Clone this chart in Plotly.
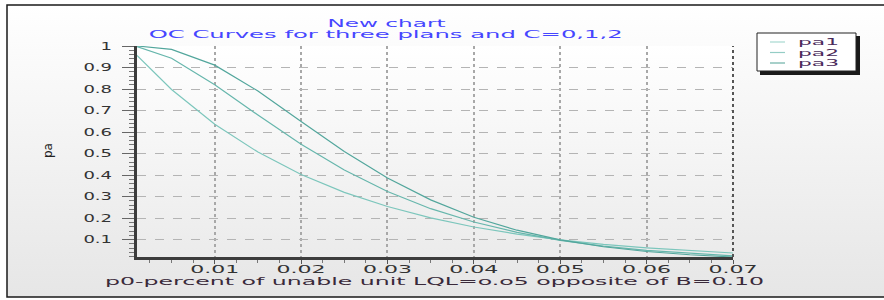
import base64
import json
import plotly.graph_objects as go

# ---- data ----
p0 = [0.001, 0.005, 0.01, 0.015, 0.02, 0.025, 0.03, 0.035, 0.04, 0.045,
      0.05, 0.055, 0.06, 0.065, 0.07]
pa1 = [0.956, 0.798, 0.636, 0.507, 0.403, 0.320, 0.254, 0.201, 0.159, 0.126,
       0.099, 0.078, 0.062, 0.049, 0.038]
pa2 = [0.997, 0.943, 0.820, 0.679, 0.543, 0.424, 0.324, 0.244, 0.182, 0.134,
       0.097, 0.070, 0.050, 0.036, 0.025]
pa3 = [1.000, 0.984, 0.911, 0.791, 0.649, 0.510, 0.387, 0.285, 0.204, 0.144,
       0.099, 0.067, 0.045, 0.030, 0.0195]
series_names = ["pa1", "pa2", "pa3"]
x_ticks = [0.01, 0.02, 0.03, 0.04, 0.05, 0.06, 0.07]
x_ticklabels = ["0.01", "0.02", "0.03", "0.04", "0.05", "0.06", "0.07"]
y_ticks = [0.1, 0.2, 0.3, 0.4, 0.5, 0.6, 0.7, 0.8, 0.9, 1.0]
y_ticklabels = ["0.1", "0.2", "0.3", "0.4", "0.5", "0.6", "0.7", "0.8", "0.9", "1"]

title_1 = "New chart"
title_2 = "OC Curves for three plans and C=0,1,2"
x_title = "p0-percent of unable unit LQL=o.o5 opposite of B=0.10"
y_title = "pa"

colors = ["#7cc6bc", "#66b6ac", "#52a69c"]
legend_colors = ["#a6d8d0", "#94cdc5", "#6cb0a7"]
FONT = "DejaVu Sans"
FS = 10


def grad(top, bottom):
    svg = ('<svg xmlns="http://www.w3.org/2000/svg" width="10" height="100" '
           'viewBox="0 0 10 100" preserveAspectRatio="none"><defs>'
           '<linearGradient id="g" x1="0" y1="0" x2="0" y2="1">'
           f'<stop offset="0" stop-color="{top}"/>'
           f'<stop offset="1" stop-color="{bottom}"/></linearGradient></defs>'
           '<rect width="10" height="100" fill="url(#g)"/></svg>')
    return "data:image/svg+xml;base64," + base64.b64encode(svg.encode()).decode()


fig = go.Figure()
for name, ys, c in zip(series_names, [pa1, pa2, pa3], colors):
    fig.add_trace(go.Scatter(x=p0, y=ys, mode="lines", name=name,
                             line=dict(color=c, width=1.2), showlegend=False))

# plot area geometry (px): left 137, right 733, top 46, bottom 257
L, R, T, B = 137, 733, 46, 257
W, H = R - L, B - T


def px(xp):
    return (xp - L) / W


def py(yp):
    return (B - yp) / H


shapes = [
    dict(type="rect", xref="paper", yref="paper",
         x0=px(7), x1=px(900), y0=py(297), y1=py(5),
         line=dict(color="#1a1a1a", width=1.5), layer="below"),
    dict(type="line", xref="paper", yref="paper", x0=1, x1=1, y0=0, y1=1,
         line=dict(color="#555555", width=2, dash="dot"), layer="above"),
    # legend shadow + box
    dict(type="rect", xref="paper", yref="paper",
         x0=px(760), x1=px(860), y0=py(75), y1=py(36),
         fillcolor="#1a1a1a", line=dict(width=0), layer="above"),
    dict(type="rect", xref="paper", yref="paper",
         x0=px(757), x1=px(856), y0=py(71), y1=py(33),
         fillcolor="white", line=dict(color="#222222", width=1), layer="above"),
]
annotations = [
    dict(text=title_1, xref="paper", yref="paper", x=px(386), y=py(23),
         showarrow=False, xanchor="center", yanchor="middle",
         font=dict(family=FONT, size=10, color="#4646ff")),
    dict(text=title_2, xref="paper", yref="paper", x=px(385), y=py(34.5),
         showarrow=False, xanchor="center", yanchor="middle",
         font=dict(family=FONT, size=10, color="#4646ff")),
    dict(text=x_title, xref="paper", yref="paper", x=px(434.5), y=py(281),
         showarrow=False, xanchor="center", yanchor="middle",
         font=dict(family=FONT, size=10, color="#3a2a3a")),
    dict(text=y_title, xref="paper", yref="paper", x=px(48), y=py(151),
         showarrow=False, xanchor="center", yanchor="middle", textangle=-90,
         font=dict(family=FONT, size=12, color="#222222")),
]
legend_y = [42, 52.5, 63]
for name, c, ly in zip(series_names, legend_colors, legend_y):
    shapes.append(dict(type="line", xref="paper", yref="paper",
                       x0=px(770), x1=px(785), y0=py(ly), y1=py(ly),
                       line=dict(color=c, width=1.2), layer="above"))
    annotations.append(dict(text=name, xref="paper", yref="paper",
                            x=px(796), y=py(ly), showarrow=False,
                            xanchor="left", yanchor="middle", align="left",
                            font=dict(family=FONT, size=9, color="#4a2a5a")))

fig.update_layout(
    width=884, height=300,
    margin=dict(l=L, r=884 - R, t=T, b=300 - B, pad=0),
    paper_bgcolor="white",
    plot_bgcolor="rgba(0,0,0,0)",
    font=dict(family=FONT, size=FS, color="#333333"),
    showlegend=False,
    images=[
        dict(source=grad("#ffffff", "#e6e6e6"), xref="paper", yref="paper",
             x=px(7), y=py(5), sizex=px(900) - px(7), sizey=py(5) - py(297),
             sizing="stretch", layer="below", xanchor="left", yanchor="top"),
        dict(source=grad("#ffffff", "#ebebeb"), xref="paper", yref="paper",
             x=0, y=1, sizex=1, sizey=1,
             sizing="stretch", layer="below", xanchor="left", yanchor="top"),
    ],
    shapes=shapes,
    annotations=annotations,
)

fig.update_xaxes(
    range=[0.001, 0.07], tickmode="array", tickvals=x_ticks, ticktext=x_ticklabels,
    showgrid=True, gridcolor="#a8a8a8", gridwidth=2, griddash="dot",
    showline=True, linecolor="#3c3c3c", linewidth=3,
    ticks="outside", ticklen=4, tickcolor="#555555", tickwidth=1,
    ticklabelstandoff=-3,
    minor=dict(dtick=0.0025, tick0=0, ticks="outside", ticklen=3,
               tickcolor="#777777", showgrid=False),
    tickfont=dict(family=FONT, size=FS, color="#333333"),
    zeroline=False,
)
fig.update_yaxes(
    range=[min(pa3), 1.0], tickmode="array", tickvals=y_ticks, ticktext=y_ticklabels,
    showgrid=True, gridcolor="#b4b4b4", gridwidth=1, griddash="dash",
    showline=True, linecolor="#3c3c3c", linewidth=3,
    ticks="outside", ticklen=12, tickcolor="#666666", tickwidth=1,
    ticklabelstandoff=8,
    minor=dict(dtick=0.02, tick0=0, ticks="outside", ticklen=5,
               tickcolor="#777777", showgrid=False),
    tickfont=dict(family=FONT, size=FS, color="#333333"),
    zeroline=False,
)

# The reference chart is stretched horizontally: widen the glyphs the same way
# (target rendered widths in px for the long texts, factors for tick labels).
targets = {title_1: 118, title_2: 474, x_title: 659,
           "pa1": 41, "pa2": 41, "pa3": 41}
post = """
document.body.style.margin = '0';
var TARGETS = %s;
function stretchText() {
  document.querySelectorAll('.main-svg text').forEach(function (t) {
    var s = t.textContent;
    if (s === 'pa') { return; }
    t.removeAttribute('textLength');
    var w = t.getComputedTextLength();
    if (!(w > 0)) { return; }
    var target;
    if (TARGETS.hasOwnProperty(s)) { target = TARGETS[s]; }
    else if (t.closest('.ytick')) { target = w * 1.8; }
    else { target = w * 2.2; }
    t.setAttribute('textLength', target.toFixed(1));
    t.setAttribute('lengthAdjust', 'spacingAndGlyphs');
  });
}
stretchText();
""" % json.dumps(targets)

fig.write_html("out.html", post_script=post, config={"displayModeBar": False})
